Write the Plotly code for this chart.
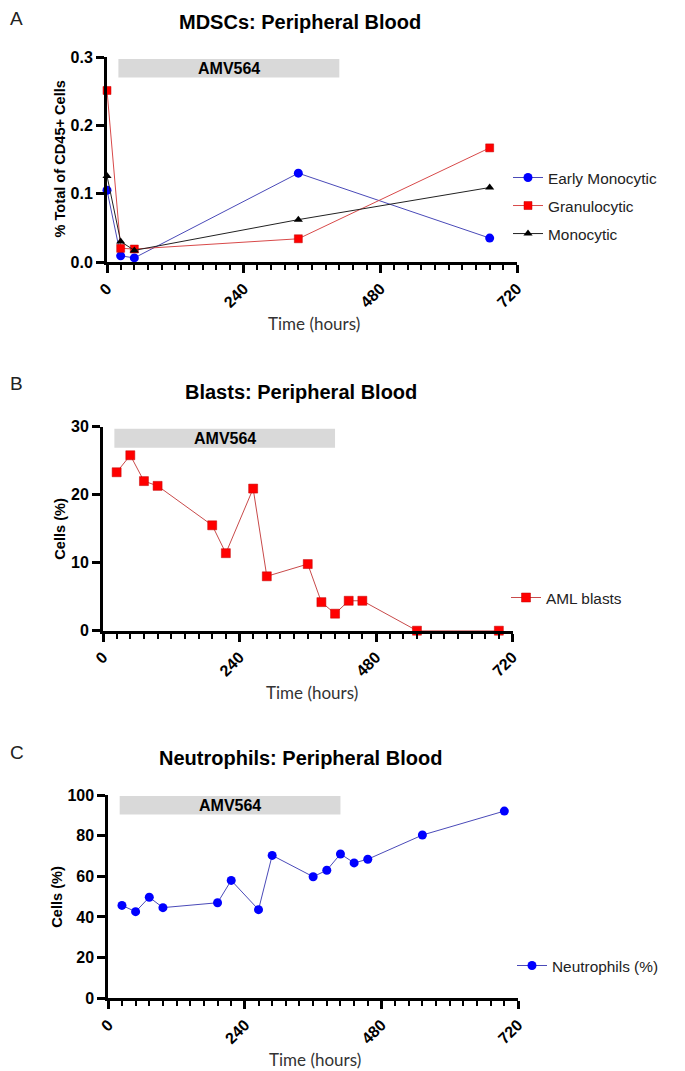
import plotly.graph_objects as go

# ---------------- data ----------------
hours_A = [0, 24, 48, 336, 672]
early_monocytic = [0.105, 0.009, 0.006, 0.130, 0.035]
granulocytic = [0.251, 0.020, 0.019, 0.034, 0.167]
monocytic = [0.126, 0.030, 0.017, 0.062, 0.109]

hours_B = [24, 48, 72, 96, 192, 216, 264, 288, 360, 384, 408, 432, 456, 552, 696]
aml_blasts = [23.3, 25.8, 22.0, 21.3, 15.5, 11.4, 20.9, 8.0, 9.8, 4.2, 2.5, 4.4, 4.4, 0, 0]

hours_C = [24, 48, 72, 96, 192, 216, 264, 288, 360, 384, 408, 432, 456, 552, 696]
neutrophils = [45.7, 42.6, 49.7, 44.6, 47.0, 58.0, 43.6, 70.3, 59.8, 63.0, 71.0, 66.6, 68.4, 80.3, 92.1]

treatment_window = [20, 408]   # hours, AMV564 bar
x_ticks = [0, 240, 480, 720]

# page body has an 8px margin: size the figure so it fills the window exactly
OFF = 8
W, H = 685 - OFF, 1071 - OFF
BOLD = "Liberation Sans, Arial, sans-serif"


def px_x(p):
    return (p - OFF) / W


def px_y(p):
    return 1 - (p - OFF) / H


fig = go.Figure()

BLUE = "#0000ff"
RED = "#ff0000"

# Panel A
fig.add_trace(go.Scatter(x=hours_A, y=early_monocytic, name="Early Monocytic", mode="lines+markers",
                         line=dict(color="#4a4ab8", width=1),
                         marker=dict(symbol="circle", size=9, color=BLUE),
                         xaxis="x", yaxis="y", legend="legend", legendgroup="a1", cliponaxis=False))
fig.add_trace(go.Scatter(x=hours_A, y=granulocytic, name="Granulocytic", mode="lines+markers",
                         line=dict(color="#d84a4a", width=1),
                         marker=dict(symbol="square", size=8, color=RED, line=dict(color="#c00000", width=0.5)),
                         xaxis="x", yaxis="y", legend="legend", legendgroup="a2", cliponaxis=False))
fig.add_trace(go.Scatter(x=hours_A, y=monocytic, name="Monocytic", mode="lines+markers",
                         line=dict(color="#222222", width=1),
                         marker=dict(symbol="triangle-up", size=8, color="black"),
                         xaxis="x", yaxis="y", legend="legend", legendgroup="a3", cliponaxis=False))

# Panel B
fig.add_trace(go.Scatter(x=hours_B, y=aml_blasts, name="AML blasts", mode="lines+markers",
                         line=dict(color="#c84a4a", width=1),
                         marker=dict(symbol="square", size=9, color=RED, line=dict(color="#c00000", width=0.5)),
                         xaxis="x2", yaxis="y2", legend="legend2", cliponaxis=False))

# Panel C
fig.add_trace(go.Scatter(x=hours_C, y=neutrophils, name="Neutrophils (%)", mode="lines+markers",
                         line=dict(color="#4a4ab8", width=1),
                         marker=dict(symbol="circle", size=9, color=BLUE),
                         xaxis="x3", yaxis="y3", legend="legend3", cliponaxis=False))


def xaxis_cfg(x0, x1, anchor):
    return dict(domain=[px_x(x0), px_x(x1)], range=[0, 720], anchor=anchor, automargin=False,
                tickvals=x_ticks, ticktext=[str(v) for v in x_ticks], tickangle=-45,
                showline=True, linecolor="black", linewidth=3, mirror=False,
                ticks="outside", ticklen=8, tickwidth=3, tickcolor="black",
                minor=dict(dtick=24, tick0=0, ticks="outside", ticklen=5, tickwidth=2, tickcolor="black"),
                tickfont=dict(family=BOLD, size=16, color="black", weight="bold"),
                showgrid=False, zeroline=False, fixedrange=True)


def yaxis_cfg(y0px, y1px, rng, ticks, fmt, anchor):
    return dict(domain=[px_y(y0px), px_y(y1px)], range=rng, anchor=anchor, automargin=False,
                tickvals=ticks, ticktext=[fmt.format(v) for v in ticks],
                showline=True, linecolor="black", linewidth=3,
                ticks="outside", ticklen=8, tickwidth=3, tickcolor="black",
                tickfont=dict(family=BOLD, size=16, color="black", weight="bold"),
                showgrid=False, zeroline=False, fixedrange=True)


layout = dict(
    width=W, height=H, margin=dict(l=0, r=0, t=0, b=0, pad=0, autoexpand=False),
    paper_bgcolor="white", plot_bgcolor="white",
    xaxis=xaxis_cfg(107, 517, "y"),
    yaxis=yaxis_cfg(262, 57, [0, 0.3], [0, 0.1, 0.2, 0.3], "{:.1f}", "x"),
    xaxis2=xaxis_cfg(103, 512.5, "y2"),
    yaxis2=yaxis_cfg(630.7, 426.7, [0, 30], [0, 10, 20, 30], "{:d}", "x2"),
    xaxis3=xaxis_cfg(108.3, 518, "y3"),
    yaxis3=yaxis_cfg(998.3, 795, [0, 100], [0, 20, 40, 60, 80, 100], "{:d}", "x3"),
    showlegend=True,
)

leg_common = dict(xanchor="left", yanchor="top", bgcolor="rgba(0,0,0,0)",
                  font=dict(family="Liberation Sans, Arial", size=15.4, color="#222222"),
                  tracegroupgap=5, itemwidth=30)
layout["legend"] = dict(x=px_x(508), y=px_y(161), traceorder="grouped", **leg_common)
layout["legend2"] = dict(x=px_x(506), y=px_y(581), **leg_common)
layout["legend3"] = dict(x=px_x(512), y=px_y(949), **leg_common)

fig.update_layout(**layout)

# AMV564 bars
bars = [("x", "y", 0.270, 0.297), ("x2", "y2", 26.9, 29.7), ("x3", "y3", 90.4, 99.5)]
for xr, yr, b0, b1 in bars:
    fig.add_shape(type="rect", xref=xr, yref=yr, x0=treatment_window[0], x1=treatment_window[1],
                  y0=b0, y1=b1, fillcolor="#d9d9d9", line=dict(width=0), layer="below")
    fig.add_annotation(xref=xr, yref=yr, x=sum(treatment_window) / 2, y=(b0 + b1) / 2,
                       text="AMV564", showarrow=False,
                       font=dict(family=BOLD, size=16, color="black", weight="bold"))

# Titles and panel letters
titles = [("A", "MDSCs: Peripheral Blood", 18, 22, 300),
          ("B", "Blasts: Peripheral Blood", 383, 392, 301),
          ("C", "Neutrophils: Peripheral Blood", 752, 758, 300)]
for letter, t, ly, ty, tx in titles:
    fig.add_annotation(xref="paper", yref="paper", x=px_x(OFF), y=px_y(ly), text=letter,
                       showarrow=False, xanchor="left", yanchor="middle",
                       font=dict(family="Liberation Sans, Arial", size=19, color="#222222"))
    fig.add_annotation(xref="paper", yref="paper", x=px_x(tx), y=px_y(ty), text=t,
                       showarrow=False, xanchor="center", yanchor="middle",
                       font=dict(family=BOLD, size=20, color="black", weight="bold"))

# Axis titles
ytitles = [("% Total of CD45+ Cells", 60, 159.5), ("Cells (%)", 60, 528.7), ("Cells (%)", 57, 896.7)]
for t, x, y in ytitles:
    fig.add_annotation(xref="paper", yref="paper", x=px_x(x), y=px_y(y), text=t, textangle=-90,
                       showarrow=False, xanchor="center", yanchor="middle",
                       font=dict(family=BOLD, size=14.6, color="black", weight="bold"))

xtitles = [(314, 323), (312, 692), (315, 1059)]
for x, y in xtitles:
    fig.add_annotation(xref="paper", yref="paper", x=px_x(x), y=px_y(y), text="Time (hours)",
                       showarrow=False, xanchor="center", yanchor="middle",
                       font=dict(family="Lato, Open Sans, sans-serif", size=17, color="#333333"))

fig.write_html("out.html")
